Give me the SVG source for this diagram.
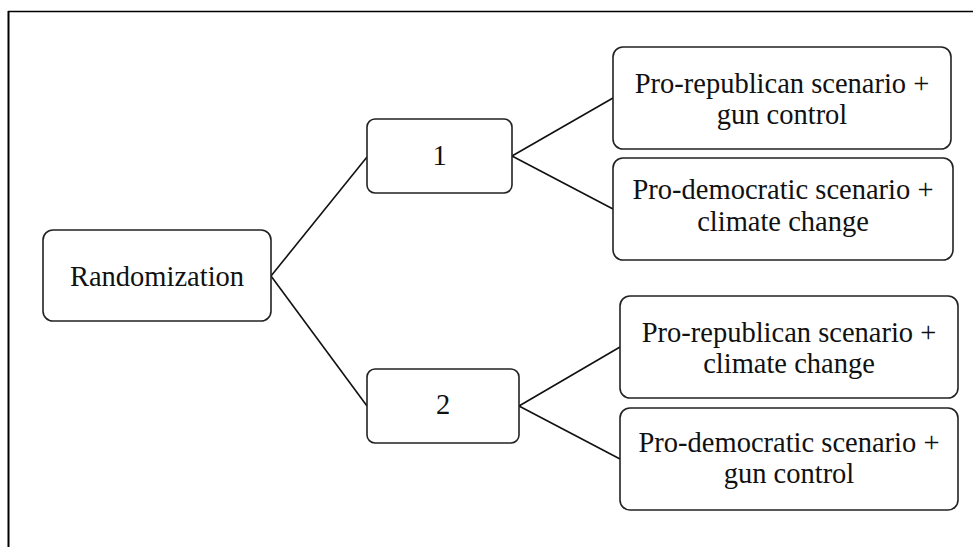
<svg xmlns="http://www.w3.org/2000/svg" width="973" height="547" viewBox="0 0 973 547">
<style>
.box{fill:#fff;stroke:#222;stroke-width:1.6}
.lbl{font-family:'Liberation Serif','Times New Roman',Times,serif;font-size:28.5px;fill:#111;text-anchor:middle}
.con{stroke:#111;stroke-width:1.6;fill:none}
.frame{stroke:#000;fill:none}
</style>
<rect width="973" height="547" fill="#fff"/>
<g id="frame">
<line class="frame" x1="8" y1="11.5" x2="973" y2="11.5" stroke-width="1.5"/>
<line class="frame" x1="8.5" y1="11" x2="8.5" y2="547" stroke-width="2"/>
</g>
<g id="connectors">
<line class="con" x1="271" y1="276" x2="367" y2="157"/>
<line class="con" x1="271" y1="276" x2="367" y2="406"/>
<line class="con" x1="512" y1="156" x2="613" y2="98"/>
<line class="con" x1="512" y1="156" x2="613" y2="209"/>
<line class="con" x1="519" y1="406" x2="620" y2="347"/>
<line class="con" x1="519" y1="406" x2="620" y2="459"/>
</g>
<g id="randomization">
<rect class="box" x="43" y="230" width="228" height="91" rx="10"/>
<text class="lbl" x="157" y="286" font-family="Liberation Serif, serif">Randomization</text>
</g>
<g id="group1">
<rect class="box" x="367" y="119" width="145" height="74" rx="8"/>
<text class="lbl" x="439.5" y="165">1</text>
</g>
<g id="group2">
<rect class="box" x="367" y="369" width="152" height="74" rx="8"/>
<text class="lbl" x="443" y="414">2</text>
</g>
<g id="rep-gun">
<rect class="box" x="613" y="47" width="338" height="102" rx="10"/>
<text class="lbl" x="782" y="93">Pro-republican scenario +</text>
<text class="lbl" x="782" y="124">gun control</text>
</g>
<g id="dem-climate">
<rect class="box" x="613" y="158" width="340" height="102" rx="10"/>
<text class="lbl" x="783" y="199">Pro-democratic scenario +</text>
<text class="lbl" x="783" y="231">climate change</text>
</g>
<g id="rep-climate">
<rect class="box" x="620" y="296" width="338" height="102" rx="10"/>
<text class="lbl" x="789" y="342">Pro-republican scenario +</text>
<text class="lbl" x="789" y="373">climate change</text>
</g>
<g id="dem-gun">
<rect class="box" x="620" y="408" width="338" height="102" rx="10"/>
<text class="lbl" x="789" y="452">Pro-democratic scenario +</text>
<text class="lbl" x="789" y="483">gun control</text>
</g>
</svg>
